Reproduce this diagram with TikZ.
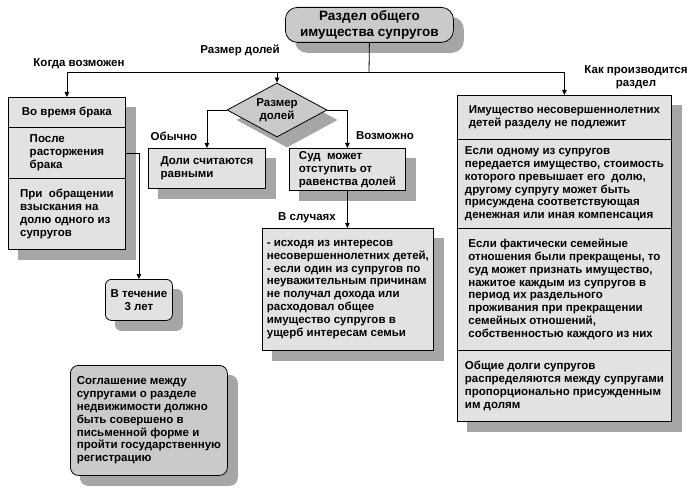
\documentclass[tikz,border=0pt]{standalone}
\usepackage{fontspec}
\setmainfont{Liberation Sans}
\usetikzlibrary{shapes.geometric,backgrounds,arrows.meta}
\definecolor{boxgray}{HTML}{E2E2E2}
\definecolor{darkbox}{HTML}{CACACA}
\definecolor{shadowgray}{HTML}{A6A6A6}
\tikzset{
  txt/.style={font=\fontsize{11.5}{12.8}\selectfont\bfseries},
  box/.style={txt, draw, fill=boxgray, align=left, anchor=north west, inner sep=0pt, line width=0.8pt},
  lbl/.style={txt, align=center},
  line/.style={line width=0.8pt},
  >={Triangle[length=5pt,width=4.5pt]}
}
\begin{document}
\begin{tikzpicture}[x=1pt,y=-1pt]
        \useasboundingbox (0,0) rectangle (700,489);
        %top
        \node[box, fill=darkbox, rounded corners=12pt, align=center, minimum width=168pt, minimum height=35pt, font=\fontsize{13.5}{16.5}\selectfont\bfseries] (top) at (285,7) {Раздел общего\\имущества супругов};
        \node[lbl] (lsize) at (240,50) {Размер долей};
        \node[lbl] (lwhen) at (79,64) {Когда возможен};
        \node[lbl] (lhow) at (636,77) {Как производится\\раздел};
        
        %left
        \node[box, align=center, minimum width=117pt, minimum height=30pt] (lb1) at (8,97) {Во время брака};
        \node[box, minimum width=117pt, minimum height=51pt] (lb2) at (8,127) {После\\расторжения\\брака};
        \node[box, minimum width=117pt, minimum height=71pt] (lb3) at (8,178) {При\ \ обращении\\взыскания на\\долю одного из\\супругов};
        \node[box, rounded corners=6pt, align=center, minimum width=67pt, minimum height=41pt] (term) at (105,279) {В течение\\3 лет};
        
        %middle
        \node[diamond, aspect=2, draw, line, fill=darkbox, minimum width=100pt, minimum height=54pt, inner sep=1pt, lbl] (dia) at (277,110) {Размер\\долей};
        \node[lbl] (lusual) at (174,136) {Обычно};
        \node[lbl] (lposs) at (385,136) {Возможно};
        \node[box, minimum width=117pt, minimum height=40pt] (equal) at (148,148) {Доли считаются\\равными};
        \node[box, minimum width=116pt, minimum height=42pt] (court) at (289,148) {Суд\ \ может\\отступить от\\равенства долей};
        \node[lbl] (lcases) at (307,218) {В случаях};
        \node[box, minimum width=171pt, minimum height=122pt] (cases) at (262,228) {- исходя из интересов\\несовершеннолетних детей,\\- если один из супругов по\\неуважительным причинам\\не получал дохода или\\расходовал общее\\имущество супругов в\\ущерб интересам семьи};
        
        %right
        \node[box, minimum width=214pt, minimum height=44pt] (rb1) at (457,95) {Имущество несовершеннолетних\\детей разделу не подлежит};
        \node[box, minimum width=214pt, minimum height=89pt] (rb2) at (457,139) {Если одному из супругов\\передается имущество, стоимость\\которого превышает его\ \ долю,\\другому супругу может быть\\присуждена соответствующая\\денежная или иная компенсация};
        \node[box, minimum width=214pt, minimum height=122pt] (rb3) at (457,228) {Если фактически семейные\\отношения были прекращены, то\\суд может признать имущество,\\нажитое каждым из супругов в\\период их раздельного\\проживания при прекращении\\семейных отношений,\\собственностью каждого из них};
        \node[box, minimum width=214pt, minimum height=71pt] (rb4) at (457,350) {Общие долги супругов\\распределяются между супругами\\пропорционально присужденным\\им долям};
        
        %bottom
        \node[box, fill=darkbox, rounded corners=8pt, minimum width=157pt, minimum height=110pt] (agree) at (70,365) {Соглашение между\\супругами о разделе\\недвижимости должно\\быть совершено в\\письменной форме и\\пройти государственную\\регистрацию};
        
        %arrows
        \coordinate (bus) at (369,72);
        \draw[line] (top.south) -- (bus);
        \draw[line,->] (bus) -| (lb1.north);
        \draw[line,->] (bus) -| (rb1.north);
        \draw[line,->] (bus -| dia.north) -- (dia.north);
        \draw[line,->] (dia.west) -| (equal.north);
        \draw[line,->] (dia.east) -| (court.north);
        \draw[line,->] (court.south) -- (court.south |- cases.north);
        \draw[line,->] (lb2.east) -| (term.north);
        
        %shadows
        \begin{scope}[on background layer]
        \begin{scope}[transform canvas={xshift=10pt,yshift=-10pt}]
        \fill[shadowgray, rounded corners=12pt] (top.north west) rectangle (top.south east);
        \fill[shadowgray] (dia.north) -- (dia.east) -- (dia.south) -- (dia.west) -- cycle;
        \fill[shadowgray] (lb1.north west) rectangle (lb3.south east);
        \fill[shadowgray, rounded corners=6pt] (term.north west) rectangle (term.south east);
        \fill[shadowgray] (equal.north west) rectangle (equal.south east);
        \fill[shadowgray] (court.north west) rectangle (court.south east);
        \fill[shadowgray] (cases.north west) rectangle (cases.south east);
        \fill[shadowgray] (rb1.north west) rectangle (rb4.south east);
        \fill[shadowgray, rounded corners=8pt] (agree.north west) rectangle (agree.south east);
        \end{scope}
        \end{scope}
        
    \end{tikzpicture}
\end{document}
